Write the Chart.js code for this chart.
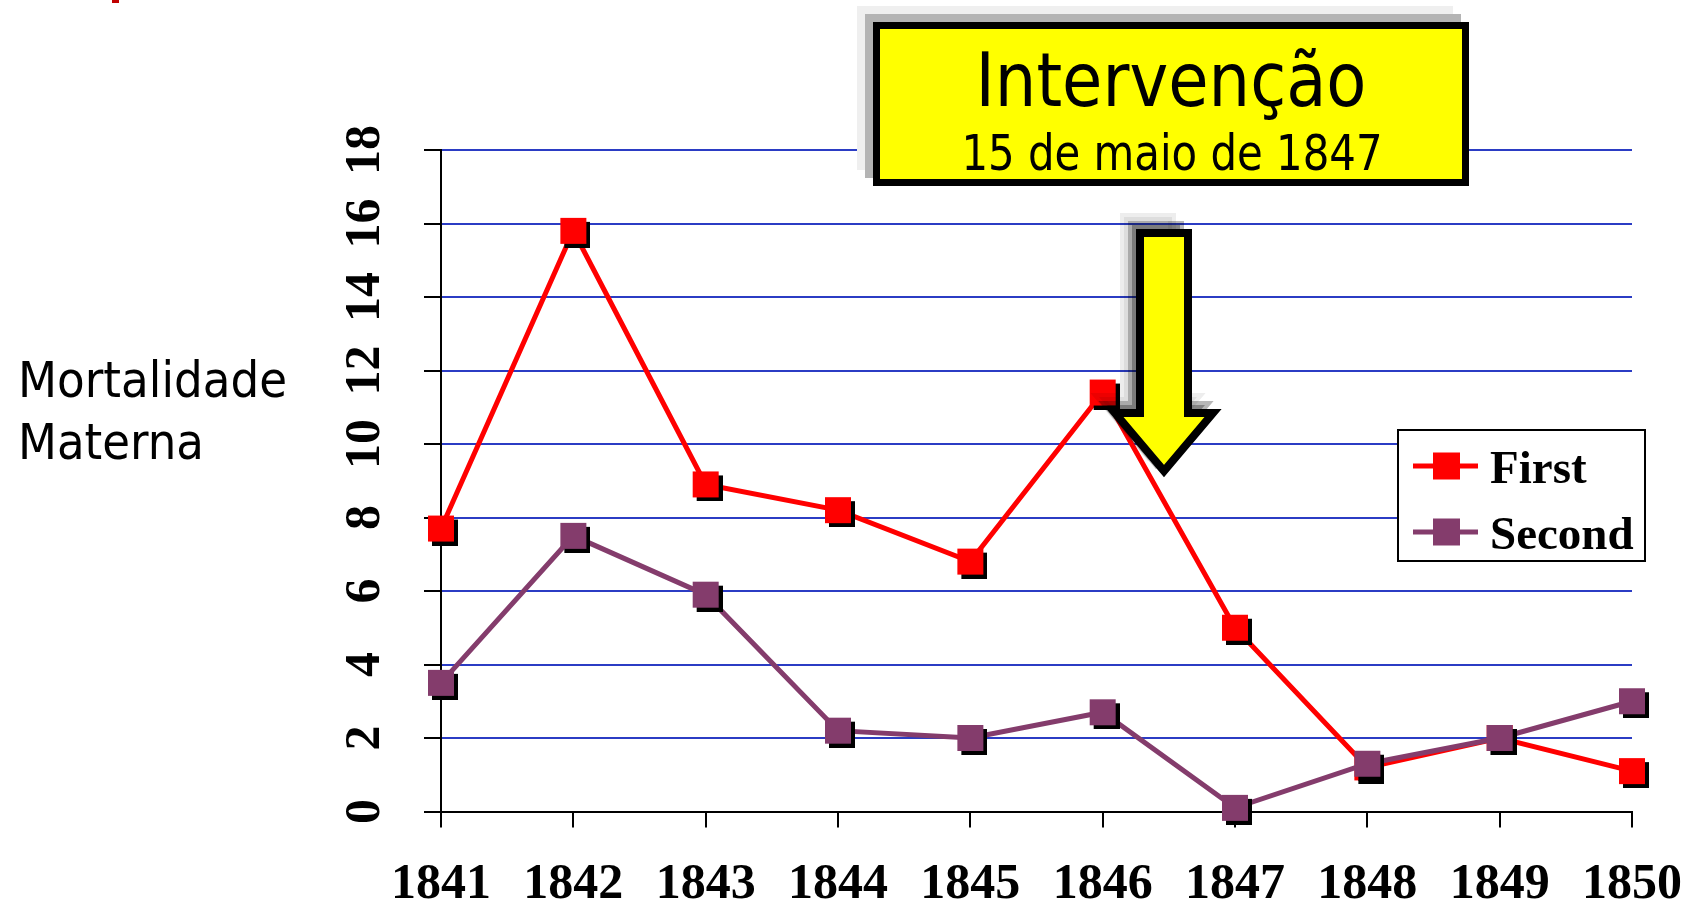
<!DOCTYPE html>
<html>
<head>
<meta charset="utf-8">
<script src="https://cdn.jsdelivr.net/npm/chart.js@4.4.0/dist/chart.umd.min.js"></script>
<style>
html,body{margin:0;padding:0;background:#fff;overflow:hidden}
#wrap{position:relative;width:1694px;height:906px}
#c{position:absolute;left:0;top:0}
#over{position:absolute;left:0;top:0;pointer-events:none}
</style>
</head>
<body>
<div id="wrap">
<canvas id="c" width="1694" height="906"></canvas>
<svg id="over" width="1694" height="906" xmlns="http://www.w3.org/2000/svg">
<rect x="112" y="0" width="7" height="3" fill="#c00000"/>
<g font-family="DejaVu Sans" fill="#000">
<text x="18" y="397" font-size="50" textLength="269" lengthAdjust="spacingAndGlyphs">Mortalidade</text>
<text x="18" y="459" font-size="50" textLength="186" lengthAdjust="spacingAndGlyphs">Materna</text>
</g>
<!-- callout box -->
<rect x="857" y="6" width="596" height="164" fill="#efefef"/>
<rect x="865" y="14" width="596" height="164" fill="#b4b4b4"/>
<rect x="876.5" y="25.5" width="589" height="157" fill="#ffff00" stroke="#000" stroke-width="7"/>
<g font-family="DejaVu Sans" fill="#000" text-anchor="middle">
<text x="1171" y="106" font-size="75" textLength="391" lengthAdjust="spacingAndGlyphs">Intervenção</text>
<text x="1172" y="170" font-size="50" textLength="421" lengthAdjust="spacingAndGlyphs">15 de maio de 1847</text>
</g>
<!-- arrow -->
<g id="arrow"></g>
<g id="legend"></g>
</svg>
</div>
<script>
/* DATA */
const years=["1841","1842","1843","1844","1845","1846","1847","1848","1849","1850"];
const firstClinic=[7.7,15.8,8.9,8.2,6.8,11.4,5.0,1.2,2.0,1.1];
const secondClinic=[3.5,7.5,5.9,2.2,2.0,2.7,0.1,1.3,2.0,3.0];
const seriesNames=["First","Second"];
const seriesColors=["#ff0000","#843c6c"];
const yTicks=[0,2,4,6,8,10,12,14,16,18];

const NS="http://www.w3.org/2000/svg";
function el(tag,attrs,parent){
let e=document.createElementNS(NS,tag);
for(let k in attrs)e.setAttribute(k,attrs[k]);
parent.appendChild(e);
return e;
}

/* MARKER with black drop shadow */
function marker(color){
let c=document.createElement("canvas");
c.width=34;c.height=34;
let x=c.getContext("2d");
x.fillStyle="#000";x.fillRect(8,8,26,26);
x.fillStyle=color;x.fillRect(4,4,26,26);
return c;
}

/* ARROW */
const arrowPts=[[1140,233],[1188,233],[1188,413],[1213,413],[1164,471],[1115,413],[1140,413]];
function pts(dx,dy){return arrowPts.map(p=>(p[0]+dx)+","+(p[1]+dy)).join(" ");}
const arrowG=document.getElementById("arrow");
el("polygon",{points:pts(-16,-16),fill:"rgba(0,0,0,0.07)",stroke:"rgba(0,0,0,0.07)","stroke-width":8,"stroke-linejoin":"miter"},arrowG);
el("polygon",{points:pts(-8,-8),fill:"rgba(0,0,0,0.28)",stroke:"rgba(0,0,0,0.28)","stroke-width":8,"stroke-linejoin":"miter"},arrowG);
el("polygon",{points:pts(0,0),fill:"#ffff00",stroke:"#000","stroke-width":8,"stroke-linejoin":"miter"},arrowG);

/* LEGEND */
const lg=document.getElementById("legend");
el("rect",{x:1398,y:430,width:247,height:131,fill:"#fff",stroke:"#000","stroke-width":2},lg);
seriesNames.forEach((name,i)=>{
let cy=466+i*66;
el("line",{x1:1413,x2:1478,y1:cy,y2:cy,stroke:seriesColors[i],"stroke-width":5},lg);
el("rect",{x:1433,y:cy-13.5,width:27,height:27,fill:seriesColors[i]},lg);
let t=el("text",{x:1490,y:cy+17,"font-family":"Liberation Serif","font-weight":"bold","font-size":47,fill:"#000"},lg);
t.textContent=name;
});

/* CHART */
const tickFont={family:"Liberation Serif",size:50,weight:"bold"};
new Chart(document.getElementById("c"),{
type:"line",
data:{
labels:years,
datasets:[
{label:seriesNames[0],data:firstClinic,borderColor:seriesColors[0],backgroundColor:seriesColors[0],borderWidth:5,tension:0,pointStyle:marker(seriesColors[0]),clip:false,order:1},
{label:seriesNames[1],data:secondClinic,borderColor:seriesColors[1],backgroundColor:seriesColors[1],borderWidth:5,tension:0,pointStyle:marker(seriesColors[1]),clip:false,order:0}
]
},
options:{
responsive:false,
animation:false,
devicePixelRatio:1,
events:[],
layout:{padding:{left:0,top:150,right:62,bottom:0}},
plugins:{legend:{display:false},tooltip:{enabled:false}},
scales:{
x:{
grid:{drawOnChartArea:false,color:"#000",tickLength:16,lineWidth:2},
border:{color:"#000",width:2},
ticks:{color:"#000",font:tickFont,padding:28,maxRotation:0,autoSkip:false},
afterFit:s=>{s.height=94.5;s.paddingLeft=0;s.paddingRight=0;}
},
y:{
min:0,max:18,
afterBuildTicks:s=>{s.ticks=yTicks.map(v=>({value:v}));},
grid:{color:c=>(c.tick&&c.tick.value===0)?"#000":"#2b3cc4",tickColor:"#000",tickLength:17,lineWidth:2},
border:{color:"#000",width:2},
ticks:{color:"#000",font:tickFont,minRotation:90,maxRotation:90,crossAlign:"center",padding:33},
afterFit:s=>{s.width=441;}
}
}
}
});
</script>
</body>
</html>
